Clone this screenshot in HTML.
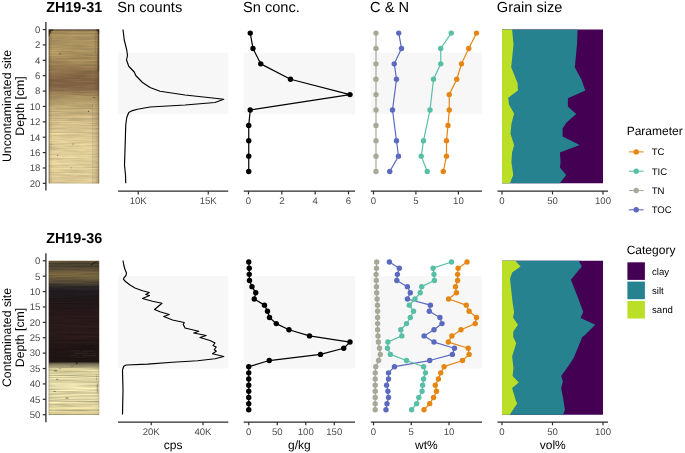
<!DOCTYPE html>
<html lang="en"><head><meta charset="utf-8"><title>Sediment core profiles</title>
<style>html,body{margin:0;padding:0;background:#fff;}body{width:685px;height:453px;overflow:hidden;font-family:"Liberation Sans",Arial,sans-serif;}svg{display:block}</style>
</head><body>
<svg width="685" height="453" viewBox="0 0 685 453" font-family="'Liberation Sans', Arial, Helvetica, sans-serif" text-rendering="geometricPrecision">
<defs>
<linearGradient id="g1" x1="0" y1="0" x2="0" y2="1">
<stop offset="0" stop-color="#6a5a3b"/>
<stop offset="0.013" stop-color="#a38b5a"/>
<stop offset="0.068" stop-color="#aa9260"/>
<stop offset="0.133" stop-color="#ac9461"/>
<stop offset="0.199" stop-color="#a48b59"/>
<stop offset="0.244" stop-color="#967a51"/>
<stop offset="0.296" stop-color="#886b48"/>
<stop offset="0.342" stop-color="#7e6041"/>
<stop offset="0.381" stop-color="#836647"/>
<stop offset="0.413" stop-color="#9c8257"/>
<stop offset="0.459" stop-color="#b19a68"/>
<stop offset="0.511" stop-color="#c0aa77"/>
<stop offset="0.557" stop-color="#c7b27f"/>
<stop offset="0.602" stop-color="#d2bd8a"/>
<stop offset="0.72" stop-color="#decb96"/>
<stop offset="0.85" stop-color="#e0ce9a"/>
<stop offset="0.985" stop-color="#dac793"/>
<stop offset="1" stop-color="#c7b480"/>
</linearGradient>
<linearGradient id="g2" x1="0" y1="0" x2="0" y2="1">
<stop offset="0" stop-color="#8a7040"/>
<stop offset="0.006" stop-color="#6a5a3a"/>
<stop offset="0.013" stop-color="#4a4030"/>
<stop offset="0.04" stop-color="#4c4232"/>
<stop offset="0.055" stop-color="#5a4d36"/>
<stop offset="0.08" stop-color="#75623f"/>
<stop offset="0.095" stop-color="#77653f"/>
<stop offset="0.115" stop-color="#665839"/>
<stop offset="0.135" stop-color="#564a36"/>
<stop offset="0.155" stop-color="#3e362d"/>
<stop offset="0.175" stop-color="#2a2525"/>
<stop offset="0.195" stop-color="#201b1f"/>
<stop offset="0.26" stop-color="#211719"/>
<stop offset="0.35" stop-color="#28181a"/>
<stop offset="0.48" stop-color="#2b1a1a"/>
<stop offset="0.58" stop-color="#1f1415"/>
<stop offset="0.655" stop-color="#1f1614"/>
<stop offset="0.663" stop-color="#4a4234"/>
<stop offset="0.672" stop-color="#7d765a"/>
<stop offset="0.69" stop-color="#a9a07a"/>
<stop offset="0.705" stop-color="#d2c894"/>
<stop offset="0.73" stop-color="#dcd2a0"/>
<stop offset="0.81" stop-color="#e2d8a8"/>
<stop offset="0.92" stop-color="#dfd5a3"/>
<stop offset="0.985" stop-color="#dccf98"/>
<stop offset="1" stop-color="#cfc088"/>
</linearGradient>
<linearGradient id="edge" x1="0" y1="0" x2="1" y2="0">
<stop offset="0" stop-color="#2a1e0c" stop-opacity="0.55"/>
<stop offset="0.035" stop-color="#2a1e0c" stop-opacity="0.08"/>
<stop offset="0.08" stop-color="#2a1e0c" stop-opacity="0"/>
<stop offset="0.90" stop-color="#2a1e0c" stop-opacity="0"/>
<stop offset="0.965" stop-color="#2a1e0c" stop-opacity="0.12"/>
<stop offset="1" stop-color="#2a1e0c" stop-opacity="0.5"/>
</linearGradient>
<filter id="nzA" x="0" y="0" width="100%" height="100%" color-interpolation-filters="sRGB">
<feTurbulence type="fractalNoise" baseFrequency="0.03 0.6" numOctaves="3" seed="11" result="t"/>
<feColorMatrix in="t" type="matrix" values="1 0 0 0 0  1 0 0 0 0  1 0 0 0 0  0 0 0 0 1" result="n"/>
<feComposite in="SourceGraphic" in2="n" operator="arithmetic" k1="0.32" k2="0.84" k3="0" k4="0"/>
</filter>
<filter id="nz" x="0" y="0" width="100%" height="100%" color-interpolation-filters="sRGB">
<feTurbulence type="fractalNoise" baseFrequency="0.018 0.85" numOctaves="3" seed="7" result="t"/>
<feColorMatrix in="t" type="matrix" values="1 0 0 0 0  1 0 0 0 0  1 0 0 0 0  0 0 0 0 1" result="n"/>
<feComposite in="SourceGraphic" in2="n" operator="arithmetic" k1="0.56" k2="0.72" k3="0" k4="0"/>
</filter>
</defs>
<rect width="685" height="453" fill="#fff"/>
<g font-size="14.4px" fill="#000">
<text x="46.2" y="12.2" font-weight="bold">ZH19-31</text>
<text x="46.2" y="243.4" font-weight="bold">ZH19-36</text>
<text x="117.3" y="12.2" font-size="14.6px">Sn counts</text>
<text x="243.05" y="12.2" font-size="14.6px">Sn conc.</text>
<text x="370.05" y="12.2" font-size="14.6px">C &amp; N</text>
<text x="496.8" y="12.2" font-size="14.6px">Grain size</text>
</g>
<g font-size="12.3px" fill="#000" text-anchor="middle">
<text transform="translate(10.8,106) rotate(-90)">Uncontaminated site</text>
<text transform="translate(24.1,106) rotate(-90)">Depth [cm]</text>
<text transform="translate(10.8,337.5) rotate(-90)">Contaminated site</text>
<text transform="translate(24.1,337.5) rotate(-90)">Depth [cm]</text>
</g>
<rect x="48.75" y="29.55" width="50.4" height="153.80" fill="url(#g1)" filter="url(#nzA)"/>
<rect x="48.75" y="29.55" width="50.4" height="153.80" fill="url(#edge)" opacity="1"/>
<line x1="45.9" x2="45.9" y1="22" y2="190.6" stroke="#2a2a2a" stroke-width="1.3"/>
<g font-size="9.6px" fill="#4d4d4d" text-anchor="end">
<line x1="42.8" x2="45.9" y1="29.55" y2="29.55" stroke="#2a2a2a" stroke-width="1.2"/>
<text x="40.4" y="32.90">0</text>
<line x1="42.8" x2="45.9" y1="44.93" y2="44.93" stroke="#2a2a2a" stroke-width="1.2"/>
<text x="40.4" y="48.28">2</text>
<line x1="42.8" x2="45.9" y1="60.31" y2="60.31" stroke="#2a2a2a" stroke-width="1.2"/>
<text x="40.4" y="63.66">4</text>
<line x1="42.8" x2="45.9" y1="75.69" y2="75.69" stroke="#2a2a2a" stroke-width="1.2"/>
<text x="40.4" y="79.04">6</text>
<line x1="42.8" x2="45.9" y1="91.07" y2="91.07" stroke="#2a2a2a" stroke-width="1.2"/>
<text x="40.4" y="94.42">8</text>
<line x1="42.8" x2="45.9" y1="106.45" y2="106.45" stroke="#2a2a2a" stroke-width="1.2"/>
<text x="40.4" y="109.80">10</text>
<line x1="42.8" x2="45.9" y1="121.83" y2="121.83" stroke="#2a2a2a" stroke-width="1.2"/>
<text x="40.4" y="125.18">12</text>
<line x1="42.8" x2="45.9" y1="137.21" y2="137.21" stroke="#2a2a2a" stroke-width="1.2"/>
<text x="40.4" y="140.56">14</text>
<line x1="42.8" x2="45.9" y1="152.59" y2="152.59" stroke="#2a2a2a" stroke-width="1.2"/>
<text x="40.4" y="155.94">16</text>
<line x1="42.8" x2="45.9" y1="167.97" y2="167.97" stroke="#2a2a2a" stroke-width="1.2"/>
<text x="40.4" y="171.32">18</text>
<line x1="42.8" x2="45.9" y1="183.35" y2="183.35" stroke="#2a2a2a" stroke-width="1.2"/>
<text x="40.4" y="186.70">20</text>
</g>
<g fill="#2b2112">
<path d="M48.75 29.5 h5.2 q-1.2 1.0 -2.6 1.6 q-0.4 1.6 -1.2 2.6 q-0.5 1.6 -1.4 3 z" opacity="0.8"/>
<path d="M99.15 29.5 h-3.6 q0.8 1.2 2.2 1.4 q0.3 1.6 1.4 2.6 z" opacity="0.75"/>
<rect x="48.75" y="29.5" width="50.4" height="0.9" opacity="0.45"/>
<rect x="97.6" y="29.5" width="1.55" height="42" opacity="0.5"/>
<rect x="94.9" y="33" width="0.6" height="21" opacity="0.18"/>
<rect x="92.3" y="104" width="0.6" height="79.5" opacity="0.16"/>
<rect x="92.9" y="110" width="6.25" height="73.5" opacity="0.06"/>
<ellipse cx="60.2" cy="53.8" rx="1.4" ry="0.55" opacity="0.5"/>
<ellipse cx="94" cy="97.5" rx="0.9" ry="0.5" opacity="0.6"/>
<ellipse cx="88.5" cy="111.3" rx="0.6" ry="0.6" opacity="0.7"/>
<ellipse cx="73" cy="144" rx="0.7" ry="0.6" opacity="0.55"/>
<ellipse cx="51.4" cy="144" rx="0.5" ry="0.5" opacity="0.5"/>
<ellipse cx="57.6" cy="155.4" rx="0.6" ry="0.6" opacity="0.55"/>
<ellipse cx="71.4" cy="167.8" rx="0.5" ry="0.5" opacity="0.4"/>
</g>
<rect x="48.75" y="260.80" width="50.4" height="153.90" fill="url(#g2)" filter="url(#nz)"/>
<rect x="48.75" y="260.80" width="50.4" height="153.90" fill="url(#edge)" opacity="0.35"/>
<line x1="45.9" x2="45.9" y1="253.25" y2="422.35" stroke="#2a2a2a" stroke-width="1.3"/>
<g font-size="9.6px" fill="#4d4d4d" text-anchor="end">
<line x1="42.8" x2="45.9" y1="260.80" y2="260.80" stroke="#2a2a2a" stroke-width="1.2"/>
<text x="40.4" y="264.15">0</text>
<line x1="42.8" x2="45.9" y1="276.19" y2="276.19" stroke="#2a2a2a" stroke-width="1.2"/>
<text x="40.4" y="279.54">5</text>
<line x1="42.8" x2="45.9" y1="291.58" y2="291.58" stroke="#2a2a2a" stroke-width="1.2"/>
<text x="40.4" y="294.93">10</text>
<line x1="42.8" x2="45.9" y1="306.97" y2="306.97" stroke="#2a2a2a" stroke-width="1.2"/>
<text x="40.4" y="310.32">15</text>
<line x1="42.8" x2="45.9" y1="322.36" y2="322.36" stroke="#2a2a2a" stroke-width="1.2"/>
<text x="40.4" y="325.71">20</text>
<line x1="42.8" x2="45.9" y1="337.75" y2="337.75" stroke="#2a2a2a" stroke-width="1.2"/>
<text x="40.4" y="341.10">25</text>
<line x1="42.8" x2="45.9" y1="353.14" y2="353.14" stroke="#2a2a2a" stroke-width="1.2"/>
<text x="40.4" y="356.49">30</text>
<line x1="42.8" x2="45.9" y1="368.53" y2="368.53" stroke="#2a2a2a" stroke-width="1.2"/>
<text x="40.4" y="371.88">35</text>
<line x1="42.8" x2="45.9" y1="383.92" y2="383.92" stroke="#2a2a2a" stroke-width="1.2"/>
<text x="40.4" y="387.27">40</text>
<line x1="42.8" x2="45.9" y1="399.31" y2="399.31" stroke="#2a2a2a" stroke-width="1.2"/>
<text x="40.4" y="402.66">45</text>
<line x1="42.8" x2="45.9" y1="414.70" y2="414.70" stroke="#2a2a2a" stroke-width="1.2"/>
<text x="40.4" y="418.05">50</text>
</g>
<g fill="#1c140e">
<path d="M90.5 264.6 q2 -0.4 2.4 -2.2 q2.5 -0.6 4.6 -1 l0 1 q-2.6 0.3 -3.8 1 q-0.8 1.8 -3.2 1.8z" opacity="0.8"/>
<ellipse cx="55.5" cy="370.8" rx="2.2" ry="0.5" opacity="0.55"/>
<ellipse cx="76.6" cy="362.9" rx="0.8" ry="1.3" opacity="0.7"/>
<ellipse cx="57.2" cy="379.2" rx="1.2" ry="0.5" opacity="0.5"/>
<ellipse cx="54.6" cy="391.6" rx="1.3" ry="0.5" opacity="0.5"/>
<ellipse cx="67" cy="398" rx="1.8" ry="0.5" opacity="0.55"/>
<ellipse cx="72" cy="366.5" rx="1.0" ry="0.4" opacity="0.4"/>
<ellipse cx="60" cy="368.3" rx="1.4" ry="0.4" opacity="0.4"/>
<ellipse cx="97.3" cy="388" rx="0.5" ry="5" opacity="0.35"/>
<ellipse cx="96.8" cy="378" rx="0.4" ry="3" opacity="0.25"/>
</g>
<g fill="#b5a880">
<rect x="71" y="350.3" width="9" height="0.7" opacity="0.1"/>
<rect x="83" y="350.6" width="12" height="0.7" opacity="0.14"/>
<rect x="74" y="352.7" width="14" height="0.8" opacity="0.15"/>
<rect x="90" y="353.0" width="7" height="0.7" opacity="0.12"/>
<rect x="70" y="355.3" width="8" height="0.7" opacity="0.1"/>
<rect x="82" y="355.1" width="14" height="0.8" opacity="0.13"/>
<rect x="76" y="357.5" width="10" height="0.6" opacity="0.09"/>
</g>
<rect x="118" y="52.62" width="110.25" height="61.52" fill="#f7f7f7"/>
<rect x="118" y="276.19" width="110.25" height="92.34" fill="#f7f7f7"/>
<rect x="243.75" y="52.62" width="111.25" height="61.52" fill="#f7f7f7"/>
<rect x="243.75" y="276.19" width="111.25" height="92.34" fill="#f7f7f7"/>
<rect x="370.75" y="52.62" width="111.25" height="61.52" fill="#f7f7f7"/>
<rect x="370.75" y="276.19" width="111.25" height="92.34" fill="#f7f7f7"/>
<line x1="118" x2="228.25" y1="191.2" y2="191.2" stroke="#2a2a2a" stroke-width="1.3"/>
<g font-size="9.6px" fill="#4d4d4d" text-anchor="middle">
<line x1="138.25" x2="138.25" y1="191.2" y2="194.39999999999998" stroke="#2a2a2a" stroke-width="1.2"/>
<text x="138.25" y="203.80">10K</text>
<line x1="208.25" x2="208.25" y1="191.2" y2="194.39999999999998" stroke="#2a2a2a" stroke-width="1.2"/>
<text x="208.25" y="203.80">15K</text>
</g>
<line x1="243.75" x2="355" y1="191.2" y2="191.2" stroke="#2a2a2a" stroke-width="1.3"/>
<g font-size="9.6px" fill="#4d4d4d" text-anchor="middle">
<line x1="248.50" x2="248.50" y1="191.2" y2="194.39999999999998" stroke="#2a2a2a" stroke-width="1.2"/>
<text x="248.50" y="203.80">0</text>
<line x1="281.80" x2="281.80" y1="191.2" y2="194.39999999999998" stroke="#2a2a2a" stroke-width="1.2"/>
<text x="281.80" y="203.80">2</text>
<line x1="315.20" x2="315.20" y1="191.2" y2="194.39999999999998" stroke="#2a2a2a" stroke-width="1.2"/>
<text x="315.20" y="203.80">4</text>
<line x1="348.50" x2="348.50" y1="191.2" y2="194.39999999999998" stroke="#2a2a2a" stroke-width="1.2"/>
<text x="348.50" y="203.80">6</text>
</g>
<line x1="370.75" x2="482" y1="191.2" y2="191.2" stroke="#2a2a2a" stroke-width="1.3"/>
<g font-size="9.6px" fill="#4d4d4d" text-anchor="middle">
<line x1="373.50" x2="373.50" y1="191.2" y2="194.39999999999998" stroke="#2a2a2a" stroke-width="1.2"/>
<text x="373.50" y="203.80">0</text>
<line x1="415.90" x2="415.90" y1="191.2" y2="194.39999999999998" stroke="#2a2a2a" stroke-width="1.2"/>
<text x="415.90" y="203.80">5</text>
<line x1="458.40" x2="458.40" y1="191.2" y2="194.39999999999998" stroke="#2a2a2a" stroke-width="1.2"/>
<text x="458.40" y="203.80">10</text>
</g>
<line x1="497.5" x2="608" y1="191.2" y2="191.2" stroke="#2a2a2a" stroke-width="1.3"/>
<g font-size="9.6px" fill="#4d4d4d" text-anchor="middle">
<line x1="502.00" x2="502.00" y1="191.2" y2="194.39999999999998" stroke="#2a2a2a" stroke-width="1.2"/>
<text x="502.00" y="203.80">0</text>
<line x1="552.50" x2="552.50" y1="191.2" y2="194.39999999999998" stroke="#2a2a2a" stroke-width="1.2"/>
<text x="552.50" y="203.80">50</text>
<line x1="603.00" x2="603.00" y1="191.2" y2="194.39999999999998" stroke="#2a2a2a" stroke-width="1.2"/>
<text x="603.00" y="203.80">100</text>
</g>
<line x1="118" x2="228.25" y1="422.1" y2="422.1" stroke="#2a2a2a" stroke-width="1.3"/>
<g font-size="9.6px" fill="#4d4d4d" text-anchor="middle">
<line x1="151.25" x2="151.25" y1="422.1" y2="425.3" stroke="#2a2a2a" stroke-width="1.2"/>
<text x="151.25" y="434.70">20K</text>
<line x1="203.00" x2="203.00" y1="422.1" y2="425.3" stroke="#2a2a2a" stroke-width="1.2"/>
<text x="203.00" y="434.70">40K</text>
</g>
<text x="173.12" y="448.80" font-size="12px" text-anchor="middle" fill="#000">cps</text>
<line x1="243.75" x2="355" y1="422.1" y2="422.1" stroke="#2a2a2a" stroke-width="1.3"/>
<g font-size="9.6px" fill="#4d4d4d" text-anchor="middle">
<line x1="248.75" x2="248.75" y1="422.1" y2="425.3" stroke="#2a2a2a" stroke-width="1.2"/>
<text x="248.75" y="434.70">0</text>
<line x1="277.25" x2="277.25" y1="422.1" y2="425.3" stroke="#2a2a2a" stroke-width="1.2"/>
<text x="277.25" y="434.70">50</text>
<line x1="305.75" x2="305.75" y1="422.1" y2="425.3" stroke="#2a2a2a" stroke-width="1.2"/>
<text x="305.75" y="434.70">100</text>
<line x1="334.25" x2="334.25" y1="422.1" y2="425.3" stroke="#2a2a2a" stroke-width="1.2"/>
<text x="334.25" y="434.70">150</text>
</g>
<text x="299.38" y="448.80" font-size="12px" text-anchor="middle" fill="#000">g/kg</text>
<line x1="370.75" x2="482" y1="422.1" y2="422.1" stroke="#2a2a2a" stroke-width="1.3"/>
<g font-size="9.6px" fill="#4d4d4d" text-anchor="middle">
<line x1="373.50" x2="373.50" y1="422.1" y2="425.3" stroke="#2a2a2a" stroke-width="1.2"/>
<text x="373.50" y="434.70">0</text>
<line x1="411.25" x2="411.25" y1="422.1" y2="425.3" stroke="#2a2a2a" stroke-width="1.2"/>
<text x="411.25" y="434.70">5</text>
<line x1="449.00" x2="449.00" y1="422.1" y2="425.3" stroke="#2a2a2a" stroke-width="1.2"/>
<text x="449.00" y="434.70">10</text>
</g>
<text x="426.38" y="448.80" font-size="12px" text-anchor="middle" fill="#000">wt%</text>
<line x1="497.5" x2="608" y1="422.1" y2="422.1" stroke="#2a2a2a" stroke-width="1.3"/>
<g font-size="9.6px" fill="#4d4d4d" text-anchor="middle">
<line x1="502.00" x2="502.00" y1="422.1" y2="425.3" stroke="#2a2a2a" stroke-width="1.2"/>
<text x="502.00" y="434.70">0</text>
<line x1="552.50" x2="552.50" y1="422.1" y2="425.3" stroke="#2a2a2a" stroke-width="1.2"/>
<text x="552.50" y="434.70">50</text>
<line x1="603.00" x2="603.00" y1="422.1" y2="425.3" stroke="#2a2a2a" stroke-width="1.2"/>
<text x="603.00" y="434.70">100</text>
</g>
<text x="552.75" y="448.80" font-size="12px" text-anchor="middle" fill="#000">vol%</text>
<polyline points="123.00,29.50 124.25,40.00 126.75,50.00 127.50,55.50 126.50,60.00 128.75,66.25 134.25,72.00 135.75,75.50 142.50,82.50 150.00,87.50 160.00,91.25 185.00,95.00 215.00,98.25 223.75,99.25 215.00,102.50 185.00,105.00 150.00,107.00 137.50,109.25 132.50,110.60 128.75,112.50 126.75,117.50 125.75,125.00 125.00,150.00 124.50,165.00 125.50,175.00 125.75,183.25" fill="none" stroke="#000" stroke-width="1.15" stroke-linejoin="round"/>
<polyline points="123.00,260.50 123.75,265.00 125.00,269.50 126.50,273.00 126.00,275.50 123.90,277.80 123.50,279.30 125.50,281.50 130.00,285.00 135.00,288.00 142.50,290.75 149.25,292.50 145.75,294.50 149.50,295.50 142.50,298.50 152.50,301.25 162.00,303.25 154.50,309.50 160.00,311.75 169.25,314.50 163.75,316.50 172.50,320.00 184.25,322.50 183.25,324.50 185.00,328.00 198.75,331.25 193.75,333.00 206.25,335.50 200.00,337.50 210.00,340.50 215.00,343.00 213.00,345.50 216.25,347.00 214.25,349.50 216.25,351.25 212.50,353.75 223.75,356.50 215.00,358.75 197.50,360.75 172.50,362.25 147.50,364.10 126.25,365.00 123.75,366.25 122.50,370.00 123.00,390.00 122.50,414.50" fill="none" stroke="#000" stroke-width="1.15" stroke-linejoin="round"/>
<polyline points="250.25,33.10 253.00,48.48 260.75,63.86 290.50,79.23 350.00,94.62 250.25,110.00 248.75,125.38 248.75,140.75 248.75,156.13 248.75,171.52" fill="none" stroke="#000" stroke-width="1.2" stroke-linejoin="round"/>
<circle cx="250.25" cy="33.10" r="2.7" fill="#000"/>
<circle cx="253.00" cy="48.48" r="2.7" fill="#000"/>
<circle cx="260.75" cy="63.86" r="2.7" fill="#000"/>
<circle cx="290.50" cy="79.23" r="2.7" fill="#000"/>
<circle cx="350.00" cy="94.62" r="2.7" fill="#000"/>
<circle cx="250.25" cy="110.00" r="2.7" fill="#000"/>
<circle cx="248.75" cy="125.38" r="2.7" fill="#000"/>
<circle cx="248.75" cy="140.75" r="2.7" fill="#000"/>
<circle cx="248.75" cy="156.13" r="2.7" fill="#000"/>
<circle cx="248.75" cy="171.52" r="2.7" fill="#000"/>
<polyline points="248.75,262.04 249.25,268.19 249.25,274.35 249.50,280.51 252.00,286.66 255.75,292.82 254.25,298.98 264.50,305.13 267.50,311.29 269.50,317.44 276.25,323.60 289.00,329.75 309.50,335.91 350.00,342.07 343.75,348.22 320.50,354.38 269.25,360.54 248.75,366.69 248.75,372.85 248.75,379.00 248.75,385.16 248.75,391.31 248.75,397.47 248.75,403.63 248.75,409.78" fill="none" stroke="#000" stroke-width="1.2" stroke-linejoin="round"/>
<circle cx="248.75" cy="262.04" r="2.7" fill="#000"/>
<circle cx="249.25" cy="268.19" r="2.7" fill="#000"/>
<circle cx="249.25" cy="274.35" r="2.7" fill="#000"/>
<circle cx="249.50" cy="280.51" r="2.7" fill="#000"/>
<circle cx="252.00" cy="286.66" r="2.7" fill="#000"/>
<circle cx="255.75" cy="292.82" r="2.7" fill="#000"/>
<circle cx="254.25" cy="298.98" r="2.7" fill="#000"/>
<circle cx="264.50" cy="305.13" r="2.7" fill="#000"/>
<circle cx="267.50" cy="311.29" r="2.7" fill="#000"/>
<circle cx="269.50" cy="317.44" r="2.7" fill="#000"/>
<circle cx="276.25" cy="323.60" r="2.7" fill="#000"/>
<circle cx="289.00" cy="329.75" r="2.7" fill="#000"/>
<circle cx="309.50" cy="335.91" r="2.7" fill="#000"/>
<circle cx="350.00" cy="342.07" r="2.7" fill="#000"/>
<circle cx="343.75" cy="348.22" r="2.7" fill="#000"/>
<circle cx="320.50" cy="354.38" r="2.7" fill="#000"/>
<circle cx="269.25" cy="360.54" r="2.7" fill="#000"/>
<circle cx="248.75" cy="366.69" r="2.7" fill="#000"/>
<circle cx="248.75" cy="372.85" r="2.7" fill="#000"/>
<circle cx="248.75" cy="379.00" r="2.7" fill="#000"/>
<circle cx="248.75" cy="385.16" r="2.7" fill="#000"/>
<circle cx="248.75" cy="391.31" r="2.7" fill="#000"/>
<circle cx="248.75" cy="397.47" r="2.7" fill="#000"/>
<circle cx="248.75" cy="403.63" r="2.7" fill="#000"/>
<circle cx="248.75" cy="409.78" r="2.7" fill="#000"/>
<polyline points="376.00,33.10 376.00,48.48 376.00,63.86 376.00,79.23 376.00,94.62 376.00,110.00 376.00,125.38 376.00,140.75 376.00,156.13 376.00,171.52" fill="none" stroke="#A6A998" stroke-width="1.2" stroke-linejoin="round"/>
<circle cx="376.00" cy="33.10" r="2.7" fill="#A6A998"/>
<circle cx="376.00" cy="48.48" r="2.7" fill="#A6A998"/>
<circle cx="376.00" cy="63.86" r="2.7" fill="#A6A998"/>
<circle cx="376.00" cy="79.23" r="2.7" fill="#A6A998"/>
<circle cx="376.00" cy="94.62" r="2.7" fill="#A6A998"/>
<circle cx="376.00" cy="110.00" r="2.7" fill="#A6A998"/>
<circle cx="376.00" cy="125.38" r="2.7" fill="#A6A998"/>
<circle cx="376.00" cy="140.75" r="2.7" fill="#A6A998"/>
<circle cx="376.00" cy="156.13" r="2.7" fill="#A6A998"/>
<circle cx="376.00" cy="171.52" r="2.7" fill="#A6A998"/>
<polyline points="398.75,33.10 401.50,48.48 394.25,63.86 396.50,79.23 392.50,110.00 396.50,140.75 398.50,156.13 389.75,171.52" fill="none" stroke="#5B6ABF" stroke-width="1.2" stroke-linejoin="round"/>
<circle cx="398.75" cy="33.10" r="2.7" fill="#5B6ABF"/>
<circle cx="401.50" cy="48.48" r="2.7" fill="#5B6ABF"/>
<circle cx="394.25" cy="63.86" r="2.7" fill="#5B6ABF"/>
<circle cx="396.50" cy="79.23" r="2.7" fill="#5B6ABF"/>
<circle cx="392.50" cy="110.00" r="2.7" fill="#5B6ABF"/>
<circle cx="396.50" cy="140.75" r="2.7" fill="#5B6ABF"/>
<circle cx="398.50" cy="156.13" r="2.7" fill="#5B6ABF"/>
<circle cx="389.75" cy="171.52" r="2.7" fill="#5B6ABF"/>
<polyline points="451.25,33.10 440.75,48.48 440.75,63.86 433.50,79.23 430.00,110.00 423.50,140.75 421.25,156.13 427.25,171.52" fill="none" stroke="#58BFA6" stroke-width="1.2" stroke-linejoin="round"/>
<circle cx="451.25" cy="33.10" r="2.7" fill="#58BFA6"/>
<circle cx="440.75" cy="48.48" r="2.7" fill="#58BFA6"/>
<circle cx="440.75" cy="63.86" r="2.7" fill="#58BFA6"/>
<circle cx="433.50" cy="79.23" r="2.7" fill="#58BFA6"/>
<circle cx="430.00" cy="110.00" r="2.7" fill="#58BFA6"/>
<circle cx="423.50" cy="140.75" r="2.7" fill="#58BFA6"/>
<circle cx="421.25" cy="156.13" r="2.7" fill="#58BFA6"/>
<circle cx="427.25" cy="171.52" r="2.7" fill="#58BFA6"/>
<polyline points="476.50,33.10 468.75,48.48 461.50,63.86 456.75,79.23 449.25,94.62 449.25,110.00 448.00,125.38 446.50,140.75 446.50,156.13 443.25,171.52" fill="none" stroke="#E58613" stroke-width="1.2" stroke-linejoin="round"/>
<circle cx="476.50" cy="33.10" r="2.7" fill="#E58613"/>
<circle cx="468.75" cy="48.48" r="2.7" fill="#E58613"/>
<circle cx="461.50" cy="63.86" r="2.7" fill="#E58613"/>
<circle cx="456.75" cy="79.23" r="2.7" fill="#E58613"/>
<circle cx="449.25" cy="94.62" r="2.7" fill="#E58613"/>
<circle cx="449.25" cy="110.00" r="2.7" fill="#E58613"/>
<circle cx="448.00" cy="125.38" r="2.7" fill="#E58613"/>
<circle cx="446.50" cy="140.75" r="2.7" fill="#E58613"/>
<circle cx="446.50" cy="156.13" r="2.7" fill="#E58613"/>
<circle cx="443.25" cy="171.52" r="2.7" fill="#E58613"/>
<polyline points="376.70,262.04 376.50,268.19 376.10,274.35 376.30,280.51 376.50,286.66 376.70,292.82 377.10,298.98 377.50,305.13 377.60,311.29 377.60,317.44 377.60,323.60 377.60,329.75 378.00,335.91 378.40,342.07 379.50,348.22 380.30,354.38 378.60,360.54 375.80,366.69 375.20,372.85 375.20,379.00 375.20,385.16 375.20,391.31 375.20,397.47 375.20,403.63 375.20,409.78" fill="none" stroke="#A6A998" stroke-width="1.2" stroke-linejoin="round"/>
<circle cx="376.70" cy="262.04" r="2.7" fill="#A6A998"/>
<circle cx="376.50" cy="268.19" r="2.7" fill="#A6A998"/>
<circle cx="376.10" cy="274.35" r="2.7" fill="#A6A998"/>
<circle cx="376.30" cy="280.51" r="2.7" fill="#A6A998"/>
<circle cx="376.50" cy="286.66" r="2.7" fill="#A6A998"/>
<circle cx="376.70" cy="292.82" r="2.7" fill="#A6A998"/>
<circle cx="377.10" cy="298.98" r="2.7" fill="#A6A998"/>
<circle cx="377.50" cy="305.13" r="2.7" fill="#A6A998"/>
<circle cx="377.60" cy="311.29" r="2.7" fill="#A6A998"/>
<circle cx="377.60" cy="317.44" r="2.7" fill="#A6A998"/>
<circle cx="377.60" cy="323.60" r="2.7" fill="#A6A998"/>
<circle cx="377.60" cy="329.75" r="2.7" fill="#A6A998"/>
<circle cx="378.00" cy="335.91" r="2.7" fill="#A6A998"/>
<circle cx="378.40" cy="342.07" r="2.7" fill="#A6A998"/>
<circle cx="379.50" cy="348.22" r="2.7" fill="#A6A998"/>
<circle cx="380.30" cy="354.38" r="2.7" fill="#A6A998"/>
<circle cx="378.60" cy="360.54" r="2.7" fill="#A6A998"/>
<circle cx="375.80" cy="366.69" r="2.7" fill="#A6A998"/>
<circle cx="375.20" cy="372.85" r="2.7" fill="#A6A998"/>
<circle cx="375.20" cy="379.00" r="2.7" fill="#A6A998"/>
<circle cx="375.20" cy="385.16" r="2.7" fill="#A6A998"/>
<circle cx="375.20" cy="391.31" r="2.7" fill="#A6A998"/>
<circle cx="375.20" cy="397.47" r="2.7" fill="#A6A998"/>
<circle cx="375.20" cy="403.63" r="2.7" fill="#A6A998"/>
<circle cx="375.20" cy="409.78" r="2.7" fill="#A6A998"/>
<polyline points="389.40,262.04 399.30,268.19 397.40,274.35 396.80,280.51 407.40,286.66 410.30,292.82 407.40,298.98 430.40,305.13 429.30,311.29 439.90,317.44 442.00,323.60 434.00,329.75 424.10,335.91 434.00,342.07 454.50,348.22 452.40,354.38 429.70,360.54 394.50,366.69 388.50,372.85 388.50,379.00 386.60,385.16 387.90,391.31 388.50,397.47 387.00,403.63 386.00,409.78" fill="none" stroke="#5B6ABF" stroke-width="1.2" stroke-linejoin="round"/>
<circle cx="389.40" cy="262.04" r="2.7" fill="#5B6ABF"/>
<circle cx="399.30" cy="268.19" r="2.7" fill="#5B6ABF"/>
<circle cx="397.40" cy="274.35" r="2.7" fill="#5B6ABF"/>
<circle cx="396.80" cy="280.51" r="2.7" fill="#5B6ABF"/>
<circle cx="407.40" cy="286.66" r="2.7" fill="#5B6ABF"/>
<circle cx="410.30" cy="292.82" r="2.7" fill="#5B6ABF"/>
<circle cx="407.40" cy="298.98" r="2.7" fill="#5B6ABF"/>
<circle cx="430.40" cy="305.13" r="2.7" fill="#5B6ABF"/>
<circle cx="429.30" cy="311.29" r="2.7" fill="#5B6ABF"/>
<circle cx="439.90" cy="317.44" r="2.7" fill="#5B6ABF"/>
<circle cx="442.00" cy="323.60" r="2.7" fill="#5B6ABF"/>
<circle cx="434.00" cy="329.75" r="2.7" fill="#5B6ABF"/>
<circle cx="424.10" cy="335.91" r="2.7" fill="#5B6ABF"/>
<circle cx="434.00" cy="342.07" r="2.7" fill="#5B6ABF"/>
<circle cx="454.50" cy="348.22" r="2.7" fill="#5B6ABF"/>
<circle cx="452.40" cy="354.38" r="2.7" fill="#5B6ABF"/>
<circle cx="429.70" cy="360.54" r="2.7" fill="#5B6ABF"/>
<circle cx="394.50" cy="366.69" r="2.7" fill="#5B6ABF"/>
<circle cx="388.50" cy="372.85" r="2.7" fill="#5B6ABF"/>
<circle cx="388.50" cy="379.00" r="2.7" fill="#5B6ABF"/>
<circle cx="386.60" cy="385.16" r="2.7" fill="#5B6ABF"/>
<circle cx="387.90" cy="391.31" r="2.7" fill="#5B6ABF"/>
<circle cx="388.50" cy="397.47" r="2.7" fill="#5B6ABF"/>
<circle cx="387.00" cy="403.63" r="2.7" fill="#5B6ABF"/>
<circle cx="386.00" cy="409.78" r="2.7" fill="#5B6ABF"/>
<polyline points="451.50,262.04 433.10,268.19 434.00,274.35 434.40,280.51 421.70,286.66 420.20,292.82 415.00,298.98 409.30,305.13 413.50,311.29 410.30,317.44 406.50,323.60 400.80,329.75 401.80,335.91 387.90,342.07 387.50,348.22 390.40,354.38 406.50,360.54 423.60,366.69 425.50,372.85 423.60,379.00 422.60,385.16 422.10,391.31 418.80,397.47 416.60,403.63 411.60,409.78" fill="none" stroke="#58BFA6" stroke-width="1.2" stroke-linejoin="round"/>
<circle cx="451.50" cy="262.04" r="2.7" fill="#58BFA6"/>
<circle cx="433.10" cy="268.19" r="2.7" fill="#58BFA6"/>
<circle cx="434.00" cy="274.35" r="2.7" fill="#58BFA6"/>
<circle cx="434.40" cy="280.51" r="2.7" fill="#58BFA6"/>
<circle cx="421.70" cy="286.66" r="2.7" fill="#58BFA6"/>
<circle cx="420.20" cy="292.82" r="2.7" fill="#58BFA6"/>
<circle cx="415.00" cy="298.98" r="2.7" fill="#58BFA6"/>
<circle cx="409.30" cy="305.13" r="2.7" fill="#58BFA6"/>
<circle cx="413.50" cy="311.29" r="2.7" fill="#58BFA6"/>
<circle cx="410.30" cy="317.44" r="2.7" fill="#58BFA6"/>
<circle cx="406.50" cy="323.60" r="2.7" fill="#58BFA6"/>
<circle cx="400.80" cy="329.75" r="2.7" fill="#58BFA6"/>
<circle cx="401.80" cy="335.91" r="2.7" fill="#58BFA6"/>
<circle cx="387.90" cy="342.07" r="2.7" fill="#58BFA6"/>
<circle cx="387.50" cy="348.22" r="2.7" fill="#58BFA6"/>
<circle cx="390.40" cy="354.38" r="2.7" fill="#58BFA6"/>
<circle cx="406.50" cy="360.54" r="2.7" fill="#58BFA6"/>
<circle cx="423.60" cy="366.69" r="2.7" fill="#58BFA6"/>
<circle cx="425.50" cy="372.85" r="2.7" fill="#58BFA6"/>
<circle cx="423.60" cy="379.00" r="2.7" fill="#58BFA6"/>
<circle cx="422.60" cy="385.16" r="2.7" fill="#58BFA6"/>
<circle cx="422.10" cy="391.31" r="2.7" fill="#58BFA6"/>
<circle cx="418.80" cy="397.47" r="2.7" fill="#58BFA6"/>
<circle cx="416.60" cy="403.63" r="2.7" fill="#58BFA6"/>
<circle cx="411.60" cy="409.78" r="2.7" fill="#58BFA6"/>
<polyline points="467.00,262.04 458.10,268.19 457.60,274.35 457.60,280.51 455.50,286.66 456.40,292.82 448.60,298.98 466.30,305.13 469.10,311.29 476.50,317.44 475.20,323.60 461.00,329.75 451.90,335.91 448.30,342.07 468.20,348.22 469.10,354.38 462.50,360.54 444.10,366.69 440.70,372.85 438.40,379.00 435.30,385.16 436.50,391.31 433.60,397.47 429.70,403.63 424.00,409.78" fill="none" stroke="#E58613" stroke-width="1.2" stroke-linejoin="round"/>
<circle cx="467.00" cy="262.04" r="2.7" fill="#E58613"/>
<circle cx="458.10" cy="268.19" r="2.7" fill="#E58613"/>
<circle cx="457.60" cy="274.35" r="2.7" fill="#E58613"/>
<circle cx="457.60" cy="280.51" r="2.7" fill="#E58613"/>
<circle cx="455.50" cy="286.66" r="2.7" fill="#E58613"/>
<circle cx="456.40" cy="292.82" r="2.7" fill="#E58613"/>
<circle cx="448.60" cy="298.98" r="2.7" fill="#E58613"/>
<circle cx="466.30" cy="305.13" r="2.7" fill="#E58613"/>
<circle cx="469.10" cy="311.29" r="2.7" fill="#E58613"/>
<circle cx="476.50" cy="317.44" r="2.7" fill="#E58613"/>
<circle cx="475.20" cy="323.60" r="2.7" fill="#E58613"/>
<circle cx="461.00" cy="329.75" r="2.7" fill="#E58613"/>
<circle cx="451.90" cy="335.91" r="2.7" fill="#E58613"/>
<circle cx="448.30" cy="342.07" r="2.7" fill="#E58613"/>
<circle cx="468.20" cy="348.22" r="2.7" fill="#E58613"/>
<circle cx="469.10" cy="354.38" r="2.7" fill="#E58613"/>
<circle cx="462.50" cy="360.54" r="2.7" fill="#E58613"/>
<circle cx="444.10" cy="366.69" r="2.7" fill="#E58613"/>
<circle cx="440.70" cy="372.85" r="2.7" fill="#E58613"/>
<circle cx="438.40" cy="379.00" r="2.7" fill="#E58613"/>
<circle cx="435.30" cy="385.16" r="2.7" fill="#E58613"/>
<circle cx="436.50" cy="391.31" r="2.7" fill="#E58613"/>
<circle cx="433.60" cy="397.47" r="2.7" fill="#E58613"/>
<circle cx="429.70" cy="403.63" r="2.7" fill="#E58613"/>
<circle cx="424.00" cy="409.78" r="2.7" fill="#E58613"/>
<clipPath id="gc1"><rect x="502" y="29.55" width="101" height="153.80"/></clipPath>
<g clip-path="url(#gc1)">
<rect x="500" y="26.55" width="105" height="159.80" fill="#440154"/>
<polygon points="500.00,26.55 577.60,26.55 577.60,29.50 577.00,44.40 574.80,67.35 581.50,79.70 585.30,90.60 567.90,98.20 567.90,106.50 576.20,114.00 566.50,122.40 562.60,128.50 562.60,136.50 579.70,144.90 559.90,152.40 560.60,162.00 559.90,167.40 566.20,175.00 560.00,183.10 560.00,186.35 500.00,186.35" fill="#26828E"/>
<polygon points="500.00,26.55 512.10,26.55 512.10,29.50 513.50,44.40 511.20,67.35 517.60,83.20 517.90,90.60 508.20,97.70 509.10,104.70 514.10,113.50 511.40,124.10 510.50,133.80 514.10,144.90 512.10,152.40 511.40,162.00 513.25,175.00 510.00,183.10 510.00,186.35 500.00,186.35" fill="#BBDF27"/>
</g>
<clipPath id="gc2"><rect x="502" y="260.80" width="101" height="153.90"/></clipPath>
<g clip-path="url(#gc2)">
<rect x="500" y="257.80" width="105" height="159.90" fill="#440154"/>
<polygon points="500.00,257.80 578.80,257.80 578.80,260.75 581.80,266.50 570.90,279.70 577.10,295.60 583.20,311.80 580.60,318.00 595.20,324.70 585.00,335.00 582.30,337.00 573.50,358.20 568.20,366.20 561.20,375.90 562.90,381.20 561.20,388.20 562.90,397.00 565.00,410.00 563.00,414.35 563.00,417.70 500.00,417.70" fill="#26828E"/>
<polygon points="500.00,257.80 515.30,257.80 515.30,260.75 520.60,266.50 512.10,272.60 510.00,278.80 512.60,302.60 514.10,312.30 513.00,317.60 517.90,324.70 513.20,331.80 513.20,337.00 516.20,343.20 512.10,356.50 513.50,368.00 512.60,375.90 518.80,382.40 512.10,387.90 515.80,400.60 517.20,403.50 510.00,414.35 510.00,417.70 500.00,417.70" fill="#BBDF27"/>
</g>
<text x="626.7" y="134.5" font-size="12px" fill="#000">Parameter</text>
<g font-size="9.6px" fill="#000">
<line x1="628.9" x2="643.6" y1="151.90" y2="151.90" stroke="#E58613" stroke-width="1.07"/>
<circle cx="636.2" cy="151.90" r="2.7" fill="#E58613"/>
<text x="651.7" y="155.25">TC</text>
<line x1="628.9" x2="643.6" y1="171.20" y2="171.20" stroke="#58BFA6" stroke-width="1.07"/>
<circle cx="636.2" cy="171.20" r="2.7" fill="#58BFA6"/>
<text x="651.7" y="174.55">TIC</text>
<line x1="628.9" x2="643.6" y1="190.50" y2="190.50" stroke="#A6A998" stroke-width="1.07"/>
<circle cx="636.2" cy="190.50" r="2.7" fill="#A6A998"/>
<text x="651.7" y="193.85">TN</text>
<line x1="628.9" x2="643.6" y1="209.80" y2="209.80" stroke="#5B6ABF" stroke-width="1.07"/>
<circle cx="636.2" cy="209.80" r="2.7" fill="#5B6ABF"/>
<text x="651.7" y="213.15">TOC</text>
</g>
<text x="626.7" y="254.4" font-size="12px" fill="#000">Category</text>
<g font-size="9.6px" fill="#000">
<rect x="627.4" y="262.30" width="17.5" height="17.6" fill="#440154"/>
<text x="652" y="274.80">clay</text>
<rect x="627.4" y="281.60" width="17.5" height="17.6" fill="#26828E"/>
<text x="652" y="294.10">silt</text>
<rect x="627.4" y="300.90" width="17.5" height="17.6" fill="#BBDF27"/>
<text x="652" y="313.40">sand</text>
</g>
</svg>
</body></html>
